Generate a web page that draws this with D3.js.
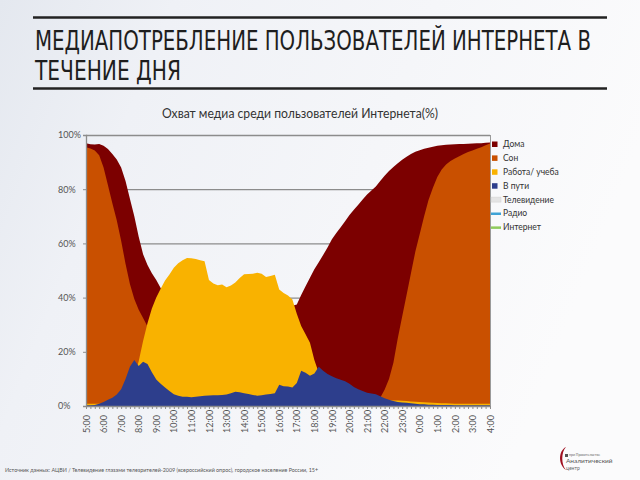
<!DOCTYPE html>
<html><head><meta charset="utf-8">
<script src="https://cdn.jsdelivr.net/npm/d3@7"></script>
<style>
html,body{margin:0;padding:0;width:640px;height:480px;overflow:hidden;}
svg{display:block;}
</style></head>
<body><svg id="c" width="640" height="480"></svg>
<script>
// ---------- DATA (15-minute steps from 5:00 to 4:00 next day) ----------
const hourLabels = ["5:00","6:00","7:00","8:00","9:00","10:00","11:00","12:00","13:00","14:00","15:00","16:00","17:00","18:00","19:00","20:00","21:00","22:00","23:00","0:00","1:00","2:00","3:00","4:00"];
const stepsPerHour = 4;

const home = [
 97,96.6,96.5,96.7, 96,94.8,93,91, 88,83,76.5,70, 62.5,56,52,49, 46.5,43.5,41,39,
 38,37.5,37,37, 37,37,37,37, 37,37,37,37, 37,37,37,37, 37,37,37,37, 37,37,37,37, 37,37,37,37,
 37.5,41,44.2,47.3, 50.5,53,55.7,58.5, 61.5,63.8,66,68.2, 70.5,72.4,74.3,76.2, 78,79.5,81,83,
 85,86.7,88.2,89.6, 90.9,92,93,93.8, 94.4,94.9,95.3,95.7, 96,96.2,96.4,96.5, 96.6,96.7,96.7,96.8,
 96.9,97,97,97.1, 97.2];
const sleep = [
 95.5,95,94.3,92.5, 88,81.5,74.8,68.5, 61,52.5,45,39.5, 35.5,32.5,29.3,24, 19,14,10,7,
 5,3.5,2.5,2, 1.5,1.2,1,1, 0.8,0.8,0.8,0.8, 0.8,0.8,0.8,0.8, 0.8,0.8,0.8,0.8, 0.8,0.8,0.8,0.8,
 0.8,0.8,0.8,0.8, 0.8,0.8,0.8,0.8, 0.8,0.8,0.8,0.8, 0.8,0.8,0.8,0.8, 0.8,0.8,0.8,0.8,
 0.8,1,1.5,3, 6,10,16,25, 33,41,49,57, 63.5,70,76,80.5, 84.5,87.3,89.1,90.4, 91.3,92.2,93,93.7,
 94.3,94.9,95.5,96.2, 96.9];
const work = [
 0.8,0.8,0.8,0.8, 0.8,0.8,0.9,1.2, 2,4,7,11, 16.5,24,30.5,36, 40,43.3,46.3,48.5,
 51,52.7,53.8,54.6, 54.5,54.2,53.8,53.4, 46.5,45.2,44.6,44.8, 43.8,44.5,45.6,47.2, 48.6,48.7,48.8,49.2,
 48.8,47.6,48,48.4, 43,41.7,40.8,39.3, 34,29.5,26.5,23.3, 17,12.3,9.8,7.8, 6,5,4.2,3.6,
 3.2,3,2.8,2.7, 2.5,2.4,2.3,2.2, 2.1,2.1,2,2, 1.9,1.8,1.7,1.6, 1.5,1.4,1.3,1.2, 1.1,1,1,0.9,
 0.8,0.8,0.8,0.8, 0.8,0.8,0.8,0.8, 0.8];
const transit = [
 0.3,0.3,0.4,0.8, 1.5,2.3,3,4.2, 6.2,10,14.5,17, 14.8,16.3,15.5,12.5, 9.8,8.2,6.8,5.5,
 4.3,3.8,3.4,3.4, 3.2,3.4,3.6,3.8, 3.9,4,4,4.1, 4.2,4.7,5.3,5.1, 4.7,4.4,4.1,3.8,
 4,4.2,4.4,4.7, 7.8,7.3,7.2,6.8, 8.5,13,12.3,11.2, 12,14.5,13,11.8, 11,10.2,9.7,9.1,
 8.2,7,6.2,5.5, 4.9,4.6,4.3,3.6, 2.9,2.3,1.8,1.5, 1.3,1.2,1,0.8, 0.6,0.6,0.5,0.5, 0.4,0.4,0.4,0.4,
 0.3,0.3,0.3,0.3, 0.3,0.3,0.3,0.3, 0.3];

const seriesNames = ["Дома","Сон","Работа/ учеба","В пути","Телевидение","Радио","Интернет"];
const seriesColors = ["#7c0000","#c95000","#f9b200","#2d3e8c","#e4e4e4","#3fa3d6","#8fcb5c"];
const yTicks = [0,20,40,60,80,100];

// ---------- SETUP ----------
const svg = d3.select("#c");
const defs = svg.append("defs");
const bg = defs.append("linearGradient").attr("id","bg").attr("x1","0").attr("y1","0").attr("x2","1").attr("y2","0.3");
bg.append("stop").attr("offset","0").attr("stop-color","#e4e8ef");
bg.append("stop").attr("offset","0.25").attr("stop-color","#eff1f6");
bg.append("stop").attr("offset","1").attr("stop-color","#fbfbfc");
svg.append("rect").attr("width",640).attr("height",480).attr("fill","url(#bg)");

// Slide title
svg.append("line").attr("x1",33).attr("x2",607).attr("y1",17.5).attr("y2",17.5).attr("stroke","#222").attr("stroke-width",2.5);
svg.append("line").attr("x1",33).attr("x2",607).attr("y1",88.5).attr("y2",88.5).attr("stroke","#222").attr("stroke-width",2.5);
const titleFont = "'Liberation Sans Narrow','DejaVu Sans Condensed','Roboto Condensed',sans-serif";
svg.append("text").attr("x",35).attr("y",50).attr("font-family",titleFont).attr("font-stretch","condensed")
  .attr("font-size",27).attr("fill","#1e1e1e").attr("textLength",556).attr("lengthAdjust","spacingAndGlyphs")
  .text("МЕДИАПОТРЕБЛЕНИЕ ПОЛЬЗОВАТЕЛЕЙ ИНТЕРНЕТА В");
svg.append("text").attr("x",35).attr("y",80).attr("font-family",titleFont).attr("font-stretch","condensed")
  .attr("font-size",27).attr("fill","#1e1e1e").attr("textLength",146).attr("lengthAdjust","spacingAndGlyphs")
  .text("ТЕЧЕНИЕ ДНЯ");

// Chart title
const chartFont = "Lato, 'Open Sans', sans-serif";
svg.append("text").attr("x",300).attr("y",118).attr("text-anchor","middle").attr("font-family",chartFont)
  .attr("font-size",14).attr("fill","#333").attr("textLength",276).attr("lengthAdjust","spacingAndGlyphs")
  .text("Охват медиа среди пользователей Интернета(%)");

// Scales
const L = 86, R = 490, T = 135, B = 406;
const nHours = hourLabels.length - 1;
const x = d3.scaleLinear().domain([0, nHours]).range([L, R]);
const y = d3.scaleLinear().domain([0, 100]).range([B, T]);
const idx = d3.range(home.length);

// Gridlines
svg.append("g").selectAll("line").data(yTicks.filter(d=>d>0)).join("line")
  .attr("x1",L).attr("x2",R).attr("y1",d=>y(d)+0.5).attr("y2",d=>y(d)+0.5)
  .attr("stroke","#8c8c8c").attr("stroke-width",1.3);

// Areas (drawn back to front)
const area = d3.area().x(i=>x(i/stepsPerHour)).y0(y(0)).curve(d3.curveLinear);
const areaSeries = [home, sleep, work, transit];
areaSeries.forEach((vals, k) => {
  svg.append("path").datum(idx)
    .attr("d", area.y1(i=>y(vals[i])))
    .attr("fill", seriesColors[k]);
});

// Right border
svg.append("line").attr("x1",R+0.5).attr("x2",R+0.5).attr("y1",T).attr("y2",B).attr("stroke","#9a9a9a").attr("stroke-width",1);

// Y axis
const yAxis = svg.append("g").attr("transform",`translate(${L},0)`)
  .call(d3.axisLeft(y).tickValues(yTicks).tickFormat(d=>d+"%").tickSize(3).tickPadding(4));
yAxis.select(".domain").attr("stroke","#8c8c8c").attr("stroke-width",1.3);
yAxis.selectAll(".tick line").attr("stroke","#8c8c8c");
yAxis.selectAll(".tick text").attr("x",-(L-58)).attr("text-anchor","start")
  .attr("font-family",chartFont).attr("font-size",9).attr("fill","#555");

// X axis: minor ticks every 15 min, labels every hour
const xMinor = svg.append("g").attr("transform",`translate(0,${B})`)
  .call(d3.axisBottom(x).tickValues(idx.map(i=>i/stepsPerHour)).tickFormat("").tickSize(3).tickSizeOuter(0));
xMinor.select(".domain").attr("stroke","#8c8c8c").attr("stroke-width",1.3);
xMinor.selectAll(".tick line").attr("stroke","#8c8c8c");
const xAxis = svg.append("g").attr("transform",`translate(0,${B})`)
  .call(d3.axisBottom(x).tickValues(d3.range(hourLabels.length)).tickFormat(d=>hourLabels[d]).tickSize(0));
xAxis.select(".domain").remove();
xAxis.selectAll(".tick text")
  .attr("transform","translate(0,27) rotate(-90)")
  .attr("x",0).attr("y",0).attr("dy","0.35em").attr("text-anchor","start")
  .attr("font-family",chartFont).attr("font-size",9).attr("fill","#555");

// Legend
const leg = svg.append("g").selectAll("g").data(seriesNames).join("g")
  .attr("transform",(d,i)=>`translate(492,${144 + i*13.9})`);
leg.each(function(d,i){
  const g = d3.select(this);
  if (i < 4) g.append("rect").attr("x",0).attr("y",-2.5).attr("width",5.5).attr("height",5.5).attr("fill",seriesColors[i]);
  else if (i === 4) g.append("rect").attr("x",-1).attr("y",-2.5).attr("width",10).attr("height",5).attr("fill",seriesColors[i]).attr("stroke","#d0d0d0").attr("stroke-width",0.5);
  else g.append("rect").attr("x",-1).attr("y",-1).attr("width",10).attr("height",2.5).attr("fill",seriesColors[i]);
});
leg.append("text").attr("x",d=>d.length>0?11:11).attr("y",0).attr("dy","0.35em")
  .attr("font-family",chartFont).attr("font-size",8.5).attr("fill","#333").text(d=>d);

// Footer source
svg.append("text").attr("x",5).attr("y",472).attr("font-family",chartFont).attr("font-size",5.5).attr("fill","#555")
  .attr("textLength",313).attr("lengthAdjust","spacingAndGlyphs")
  .text("Источник данных: АЦВИ / Телевидение глазами телезрителей-2009 (всероссийский опрос), городское население России, 15+");

// Logo
const logo = svg.append("g").attr("transform","translate(557,446)");
logo.append("path").attr("d","M9,1 C1,5 1,19 9,24 C4,19 4,6 9,1 Z").attr("fill","#a01020");
logo.append("rect").attr("x",8).attr("y",8).attr("width",3).attr("height",3).attr("fill","#555");
logo.append("text").attr("x",12).attr("y",10).attr("font-family",chartFont).attr("font-size",3.5).attr("fill","#666").text("при Правительстве");
logo.append("text").attr("x",9).attr("y",17).attr("font-family",chartFont).attr("font-size",6.5).attr("fill","#555").text("Аналитический");
logo.append("text").attr("x",9).attr("y",23.5).attr("font-family",chartFont).attr("font-size",5).attr("fill","#666").text("центр");
</script></body></html>
